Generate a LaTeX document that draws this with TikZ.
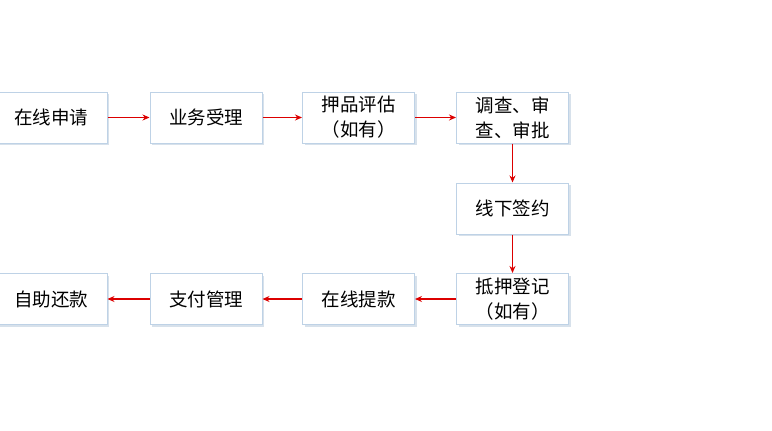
\documentclass[tikz,border=0pt]{standalone}
\usepackage{fontspec}
\setmainfont{Noto Sans CJK SC}
\usetikzlibrary{arrows.meta,shadows}
\definecolor{bord}{RGB}{190,210,230}
\definecolor{shad}{RGB}{215,225,235}
\definecolor{arrred}{RGB}{220,0,0}
\begin{document}
\begin{tikzpicture}[x=1pt,y=-1pt,
 box/.style={draw=bord,line width=1pt,fill=white,minimum width=112pt,minimum height=51pt,inner sep=0pt,align=center,font=\fontsize{18.5}{25}\selectfont,
   drop shadow={shadow xshift=2pt,shadow yshift=-2pt,fill=shad,opacity=1}},
 arr/.style={draw=arrred,line width=1.5pt,-{Stealth[length=7pt,width=6pt]}}]
\useasboundingbox (0,0) rectangle (772,431);
\node[box] (a) at (51,117.5) {在线申请};
\node[box] (b) at (206,117.5) {业务受理};
\node[box] (c) at (358.5,117.5) {押品评估\\（如有）};
\node[box] (d) at (512.5,117.5) {调查、审\\查、审批};
\node[box] (e) at (512.5,208.5) {线下签约};
\node[box] (f) at (512.5,299) {抵押登记\\（如有）};
\node[box] (g) at (358.5,299) {在线提款};
\node[box] (h) at (206,299) {支付管理};
\node[box] (i) at (51,299) {自助还款};
\draw[arr] (a) -- (b);
\draw[arr] (b) -- (c);
\draw[arr] (c) -- (d);
\draw[arr] (d) -- (e);
\draw[arr] (e) -- (f);
\draw[arr] (f) -- (g);
\draw[arr] (g) -- (h);
\draw[arr] (h) -- (i);
\end{tikzpicture}
\end{document}
